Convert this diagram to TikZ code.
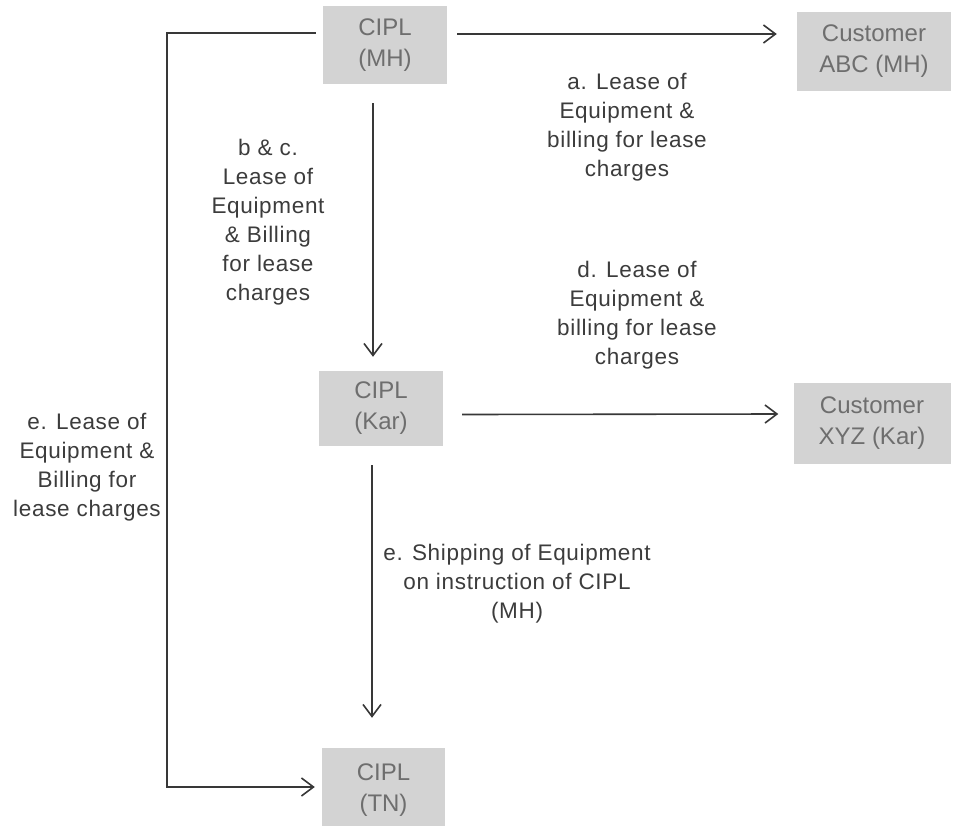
\documentclass[tikz,border=0pt]{standalone}
\usepackage{fontspec}
\setmainfont{Liberation Sans}
\newfontfamily\lblfont[LetterSpace=3]{Liberation Sans}
\usetikzlibrary{arrows.meta}
\definecolor{boxgray}{HTML}{D3D3D3}
\definecolor{boxtext}{HTML}{6E6E6E}
\definecolor{lbltext}{HTML}{3C3C3C}
\definecolor{linecol}{HTML}{383838}
\begin{document}
\begin{tikzpicture}[x=1pt,y=-1pt,
  box/.style={fill=boxgray, text=boxtext, align=center, inner sep=0pt,
    font=\fontsize{24}{31}\selectfont},
  lbl/.style={text=lbltext, align=center, inner sep=0pt,
    font=\lblfont\fontsize{22.5}{29}\selectfont},
  arr/.style={draw=linecol, line width=1.6pt,
    -{Straight Barb[length=12pt,width=18pt,line width=1.6pt]}}]
\useasboundingbox[fill=white] (0,0) rectangle (953,825);

% boxes
\node[box, minimum width=124pt, minimum height=78pt] (MH) at (385,45) {CIPL\\(MH)};
\node[box, minimum width=154pt, minimum height=79pt] (ABC) at (874,51.5) {Customer\\ABC (MH)};
\node[box, minimum width=124pt, minimum height=75pt] (Kar) at (381,408.5) {CIPL\\(Kar)};
\node[box, minimum width=157pt, minimum height=81pt] (XYZ) at (872,423.5) {Customer\\XYZ (Kar)};
\node[box, minimum width=123pt, minimum height=84pt] (TN) at (383.5,790) {CIPL\\(TN)};

% labels
\node[lbl] (la) at (627,127) {a. Lease of\\Equipment \&\\billing for lease\\charges};
\node[lbl] (lbc) at (268,222) {b \& c.\\Lease of\\Equipment\\\& Billing\\for lease\\charges};
\node[lbl] (ld) at (637,315) {d. Lease of\\Equipment \&\\billing for lease\\charges};
\node[lbl] (le) at (87,467) {e. Lease of\\Equipment \&\\Billing for\\lease charges};
\node[lbl] (lship) at (517,584) {e. Shipping of Equipment\\on instruction of CIPL\\(MH)};

% connectors
\draw[arr] ([xshift=10pt,yshift=11pt]MH.east) -- ([xshift=-20pt,yshift=17.5pt]ABC.west);
\draw[arr] ([xshift=-12pt,yshift=-19pt]MH.south) -- ([xshift=-8pt,yshift=14pt]Kar.north);
\draw[arr] ([xshift=19pt,yshift=-6pt]Kar.east) -- ([xshift=-15pt,yshift=9.5pt]XYZ.west);
\draw[arr] ([xshift=-9pt,yshift=-19pt]Kar.south) -- ([xshift=-11.5pt,yshift=30pt]TN.north);
\coordinate (L) at (167,0);
\coordinate (eS) at ([xshift=-7pt,yshift=12pt]MH.west);
\coordinate (eE) at ([xshift=-7pt,yshift=3pt]TN.west);
\draw[arr] (eS) -- (eS -| L) |- (eE);
\end{tikzpicture}
\end{document}
